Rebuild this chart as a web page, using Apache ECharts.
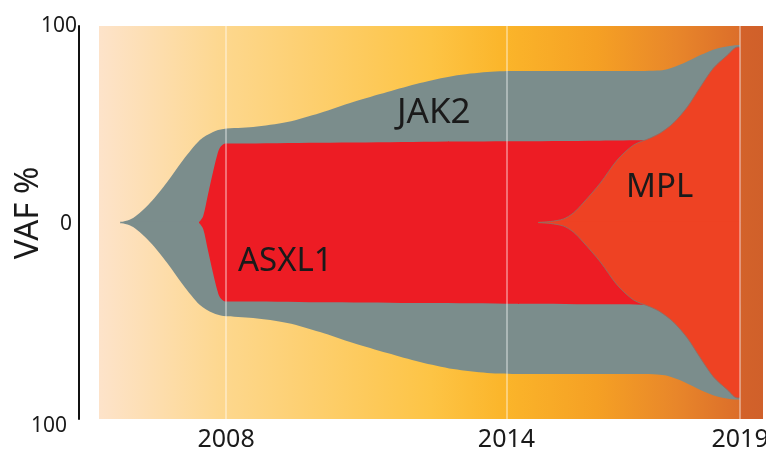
<!DOCTYPE html>
<html>
<head>
<meta charset="utf-8">
<script src="https://cdn.jsdelivr.net/npm/echarts@6/dist/echarts.min.js"></script>
<style>
html,body{margin:0;padding:0;background:#ffffff;}
#chart{width:766px;height:451px;}
</style>
</head>
<body>
<div id="chart"></div>
<script>
// Time points (years) and half-widths (VAF %)
const jak2Years = [2005.73, 2006.01, 2006.37, 2006.74, 2007.08, 2007.44, 2007.72, 2007.94, 2008.58, 2009.31, 2010.01, 2010.72, 2011.45, 2012.15, 2012.86, 2013.59, 2014.30, 2015.15, 2016.01, 2016.87, 2017.23, 2017.44, 2017.79, 2018.15, 2018.51, 2018.86, 2019.0];
const jak2VAF   = [0, 2.3, 9.9, 20.6, 31.8, 42.0, 46.1, 47.6, 48.6, 51.1, 55.7, 61.3, 66.4, 71.0, 74.6, 76.6, 77.1, 77.1, 77.1, 77.1, 77.3, 78.0, 81.0, 85.2, 88.6, 90.1, 90.3];

const asxl1Years = [2007.42, 2007.51, 2007.61, 2007.72, 2007.81, 2007.87, 2007.98, 2008.2, 2010, 2012, 2014, 2016, 2017, 2019];
const asxl1VAF   = [0, 3.3, 14.0, 25.7, 34.4, 38.2, 40.2, 40.2, 40.6, 41.0, 41.3, 41.6, 41.8, 41.8];

const mplYears = [2014.68, 2014.94, 2015.22, 2015.43, 2015.64, 2016.01, 2016.37, 2016.72, 2017.08, 2017.29, 2017.57, 2017.87, 2018.15, 2018.43, 2018.73, 2018.94, 2019.0];
const mplVAF   = [0, 0.5, 1.8, 4.8, 9.9, 20.1, 31.8, 39.4, 43.0, 45.5, 50.6, 58.8, 69.0, 78.6, 85.2, 89.3, 89.3];

const yearTicks = [2008, 2014, 2019];
const cloneNames = ['JAK2', 'ASXL1', 'MPL'];

const chart = echarts.init(document.getElementById('chart'), null, {renderer: 'canvas'});

function band(name, years, vals, color, lineColor, lineWidth) {
  const upper = years.map((y, i) => [y, vals[i]]);
  const lower = years.map((y, i) => [y, -vals[i]]);
  const common = {
    type: 'line', smooth: 0.3, showSymbol: false, silent: true,
    lineStyle: {color: lineColor, width: lineWidth, opacity: lineWidth > 0 ? 1 : 0},
    z: 2
  };
  // the two halves overlap by a hair at the centre so no seam shows
  return [
    Object.assign({name: name + '_up', data: upper, areaStyle: {color: color, opacity: 1, origin: -0.4}}, common),
    Object.assign({name: name + '_down', data: lower, areaStyle: {color: color, opacity: 1, origin: 0.4}}, common)
  ];
}

const bg = new echarts.graphic.LinearGradient(0, 0, 1, 0, [
  {offset: 0, color: '#fde3ca'},
  {offset: 0.19, color: '#fdd78d'},
  {offset: 0.50, color: '#fdc445'},
  {offset: 0.61, color: '#fbb52a'},
  {offset: 0.75, color: '#f5a024'},
  {offset: 0.87, color: '#e8862a'},
  {offset: 0.964, color: '#dc6e2a'},
  {offset: 0.966, color: '#d3622a'},
  {offset: 1, color: '#d0602a'}
]);

const option = {
  animation: false,
  grid: {left: 99, right: 3, top: 26, bottom: 32, show: true, backgroundColor: bg, borderWidth: 0,
         containLabel: false, outerBoundsMode: 'none'},
  xAxis: {
    type: 'value', min: 2005.28, max: 2019.49,
    axisLine: {show: false}, axisTick: {show: false}, splitLine: {show: false},
    axisLabel: {
      customValues: yearTicks, showMinLabel: true, showMaxLabel: true, hideOverlap: false,
      fontFamily: 'Noto Sans', fontSize: 25, color: '#1a1a1a', margin: 8,
      formatter: v => String(Math.round(v))
    }
  },
  yAxis: {
    type: 'value', min: -100, max: 100, interval: 100, offset: 20,
    axisLine: {show: true, lineStyle: {color: '#111', width: 2}},
    axisTick: {show: false}, splitLine: {show: false},
    axisLabel: {
      showMinLabel: true, showMaxLabel: true, margin: 2,
      formatter: v => v === 100 ? '{t|100}' : (v === 0 ? '{z|0}' : '{b|100}'),
      rich: {
        t: {fontFamily: 'Noto Sans', fontSize: 21, color: '#1a1a1a', padding: [0, 0, 0, 0]},
        z: {fontFamily: 'Noto Sans', fontSize: 21, color: '#1a1a1a', padding: [4, 5, 0, 0]},
        b: {fontFamily: 'Noto Sans', fontSize: 21, color: '#1a1a1a', padding: [14, 10, 0, 0]}
      }
    }
  },
  series: [].concat(
    band('JAK2', jak2Years, jak2VAF, '#7b8d8c', '#7b8d8c', 0),
    band('ASXL1', asxl1Years, asxl1VAF, '#ed1c24', '#ed1c24', 0),
    band('MPL', mplYears, mplVAF, '#ee4223', '#8f6f66', 0.9),
    [{
      type: 'line', data: [], silent: true, z: 5,
      markLine: {
        silent: true, symbol: 'none', animation: false,
        label: {show: false},
        lineStyle: {color: 'rgba(255,255,255,0.5)', width: 1.5, type: 'solid'},
        data: yearTicks.map(y => ({xAxis: y}))
      }
    }]
  ),
  graphic: [
    {type: 'text', x: 29, y: 213, rotation: Math.PI / 2, z: 10,
     style: {text: 'VAF %', fontFamily: 'Noto Sans', fontSize: 33, fill: '#1a1a1a', textAlign: 'center', textVerticalAlign: 'middle'}},
    {type: 'text', x: 397, y: 113, z: 10,
     style: {text: cloneNames[0], fontFamily: 'Noto Sans', fontSize: 35, fill: '#1a1a1a', textAlign: 'left', textVerticalAlign: 'middle'}},
    {type: 'text', x: 238, y: 262, z: 10,
     style: {text: cloneNames[1], fontFamily: 'Noto Sans', fontSize: 33, fill: '#1a1a1a', textAlign: 'left', textVerticalAlign: 'middle'}},
    {type: 'text', x: 626, y: 188, z: 10,
     style: {text: cloneNames[2], fontFamily: 'Noto Sans', fontSize: 33, fill: '#1a1a1a', textAlign: 'left', textVerticalAlign: 'middle'}}
  ]
};
chart.setOption(option);
</script>
</body>
</html>
